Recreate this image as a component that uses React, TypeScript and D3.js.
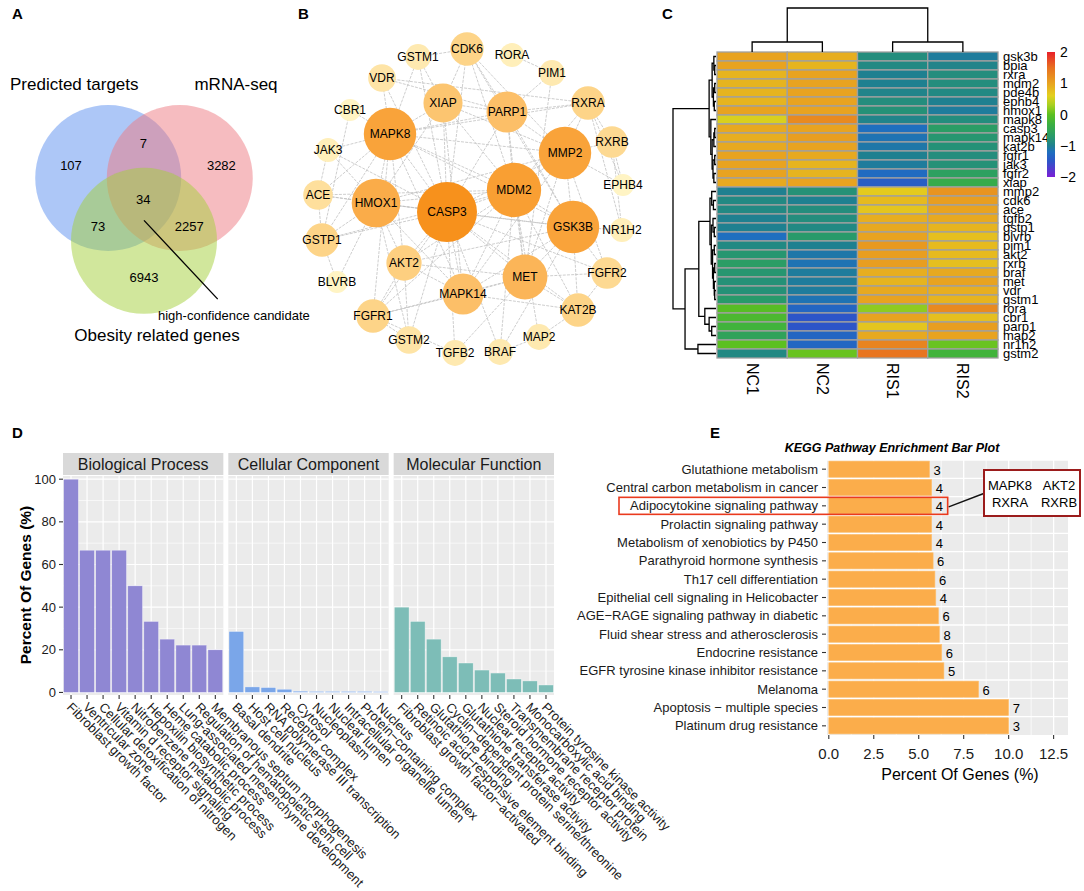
import React from 'react'
import * as d3 from 'd3'

const FONT = '"Liberation Sans", Arial, Helvetica, sans-serif'

// ---------- A: Venn ----------
const vennNames = ['Predicted targets', 'mRNA-seq', 'Obesity related genes']
const vennColors = ['#5b8ff0', '#ee7a82', '#a3cf3a']
// region counts: only A, A&B, only B, A&B&C, A&C, B&C, only C
const vennCounts = [107, 7, 3282, 34, 73, 2257, 6943]

// layout (in circle-radius units)
const vennCircleLayout: [number, number][] = [[-0.49, 0], [0.49, 0], [0, 0.86]]
const vennCountLayout: [number, number][] = [
  [-1.0, -0.17], [-0.01, -0.47], [1.06, -0.17], [-0.01, 0.29], [-0.63, 0.67], [0.62, 0.67], [0, 1.36],
]

// ---------- B: PPI network ----------
const netNodes = [
  'CASP3', 'MDM2', 'MAPK8', 'MMP2', 'GSK3B', 'HMOX1', 'MET', 'MAPK14', 'PARP1', 'XIAP', 'AKT2',
  'CDK6', 'RXRA', 'FGFR1', 'KAT2B', 'GSTP1', 'RXRB', 'FGFR2', 'ACE', 'VDR', 'GSTM2', 'GSTM1',
  'PIM1', 'TGFB2', 'BRAF', 'MAP2', 'JAK3', 'NR1H2', 'RORA', 'EPHB4', 'CBR1', 'BLVRB',
]
const netDegree = [22, 19, 18, 18, 18, 16, 14, 12, 12, 11, 9, 8, 8, 8, 8, 8, 7, 7, 6, 5, 5, 4, 4, 4, 4, 4, 3, 3, 3, 2, 2, 2]
const netLayout: Record<string, [number, number]> = {
  CASP3: [137, 212], MDM2: [204, 190], MAPK8: [80, 134], MMP2: [255, 153], GSK3B: [263, 227],
  HMOX1: [66, 203], MET: [215, 277], MAPK14: [153, 294], PARP1: [197, 112], XIAP: [133, 103],
  AKT2: [94, 263], CDK6: [157, 49], RXRA: [278, 103], FGFR1: [63, 316], KAT2B: [268, 310],
  GSTP1: [12, 240], RXRB: [302, 142], FGFR2: [297, 273], ACE: [8, 195], VDR: [72, 78],
  GSTM2: [99, 340], GSTM1: [108, 57], PIM1: [242, 73], TGFB2: [145, 353], BRAF: [190, 352],
  MAP2: [229, 337], JAK3: [18, 150], NR1H2: [312, 230], RORA: [202, 55], EPHB4: [313, 185],
  CBR1: [40, 110], BLVRB: [27, 282],
}
const netEdges: [string, string][] = [
  ['CASP3', 'MAPK8'], ['CASP3', 'HMOX1'], ['CASP3', 'MDM2'], ['CASP3', 'XIAP'], ['CASP3', 'PARP1'],
  ['CASP3', 'AKT2'], ['CASP3', 'MAPK14'], ['CASP3', 'MET'], ['CASP3', 'GSK3B'], ['CASP3', 'MMP2'],
  ['CASP3', 'CDK6'], ['CASP3', 'GSTP1'], ['CASP3', 'ACE'], ['CASP3', 'FGFR1'], ['CASP3', 'GSTM2'],
  ['CASP3', 'TGFB2'], ['CASP3', 'BRAF'], ['CASP3', 'KAT2B'], ['CASP3', 'FGFR2'], ['CASP3', 'JAK3'],
  ['CASP3', 'VDR'], ['CASP3', 'GSTM1'],
  ['MDM2', 'MAPK8'], ['MDM2', 'HMOX1'], ['MDM2', 'XIAP'], ['MDM2', 'PARP1'], ['MDM2', 'MMP2'],
  ['MDM2', 'GSK3B'], ['MDM2', 'MET'], ['MDM2', 'MAPK14'], ['MDM2', 'AKT2'], ['MDM2', 'CDK6'],
  ['MDM2', 'RXRA'], ['MDM2', 'KAT2B'], ['MDM2', 'FGFR1'], ['MDM2', 'MAP2'], ['MDM2', 'BRAF'],
  ['MDM2', 'ACE'], ['MDM2', 'GSTP1'],
  ['MAPK8', 'HMOX1'], ['MAPK8', 'XIAP'], ['MAPK8', 'PARP1'], ['MAPK8', 'MMP2'], ['MAPK8', 'GSK3B'],
  ['MAPK8', 'MAPK14'], ['MAPK8', 'AKT2'], ['MAPK8', 'JAK3'], ['MAPK8', 'CBR1'], ['MAPK8', 'VDR'],
  ['MAPK8', 'ACE'], ['MAPK8', 'GSTM1'], ['MAPK8', 'GSTP1'], ['MAPK8', 'RXRA'], ['MAPK8', 'FGFR1'],
  ['MMP2', 'PARP1'], ['MMP2', 'GSK3B'], ['MMP2', 'MET'], ['MMP2', 'RXRA'], ['MMP2', 'RXRB'],
  ['MMP2', 'EPHB4'], ['MMP2', 'HMOX1'], ['MMP2', 'CDK6'], ['MMP2', 'MAPK14'], ['MMP2', 'FGFR2'],
  ['MMP2', 'XIAP'],
  ['GSK3B', 'MET'], ['GSK3B', 'MAPK14'], ['GSK3B', 'KAT2B'], ['GSK3B', 'FGFR2'], ['GSK3B', 'NR1H2'],
  ['GSK3B', 'AKT2'], ['GSK3B', 'PARP1'], ['GSK3B', 'CDK6'], ['GSK3B', 'HMOX1'], ['GSK3B', 'BRAF'],
  ['HMOX1', 'GSTP1'], ['HMOX1', 'ACE'], ['HMOX1', 'AKT2'], ['HMOX1', 'MAPK14'], ['HMOX1', 'BLVRB'],
  ['HMOX1', 'XIAP'], ['HMOX1', 'GSTM2'], ['HMOX1', 'JAK3'],
  ['MET', 'MAPK14'], ['MET', 'KAT2B'], ['MET', 'FGFR2'], ['MET', 'AKT2'], ['MET', 'FGFR1'],
  ['MET', 'PARP1'], ['MET', 'TGFB2'],
  ['MAPK14', 'AKT2'], ['MAPK14', 'FGFR1'], ['MAPK14', 'KAT2B'], ['MAPK14', 'XIAP'],
  ['PARP1', 'XIAP'], ['PARP1', 'CDK6'], ['PARP1', 'PIM1'], ['PARP1', 'RXRA'], ['PARP1', 'VDR'],
  ['XIAP', 'CDK6'], ['XIAP', 'GSTM1'], ['AKT2', 'FGFR1'], ['AKT2', 'GSTM2'],
  ['RXRA', 'RXRB'], ['RXRA', 'NR1H2'], ['RXRA', 'EPHB4'], ['RXRA', 'VDR'],
  ['RXRB', 'NR1H2'], ['RXRB', 'EPHB4'], ['KAT2B', 'MAP2'], ['KAT2B', 'FGFR2'],
  ['ACE', 'GSTP1'], ['ACE', 'JAK3'], ['RORA', 'PIM1'], ['CBR1', 'GSTP1'], ['BLVRB', 'GSTP1'],
  ['GSTM2', 'FGFR1'], ['BRAF', 'MAP2'], ['TGFB2', 'FGFR1'], ['CDK6', 'GSTM1'], ['PIM1', 'MET'],
]

// ---------- C: heatmap ----------
const hmSamples = ['NC1', 'NC2', 'RIS1', 'RIS2']
const hmGenes = [
  'gsk3b', 'bpia', 'rxra', 'mdm2', 'pde4b', 'ephb4', 'hmox1', 'mapk8', 'casp3', 'mapk14', 'kat2b',
  'fgfr1', 'jak3', 'fgfr2', 'xiap', 'mmp2', 'cdk6', 'ace', 'tgfb2', 'gstp1', 'blvrb', 'pim1', 'akt2',
  'rxrb', 'braf', 'met', 'vdr', 'gstm1', 'rora', 'cbr1', 'parp1', 'map2', 'nr1h2', 'gstm2',
]
const hmValues = [
  [1.0, 0.9, -0.85, -1.05], [1.0, 0.85, -0.9, -0.95], [0.85, 1.0, -1.0, -0.85], [0.85, 1.0, -1.0, -0.85],
  [0.85, 1.0, -0.95, -0.9], [0.85, 1.0, -0.85, -1.0], [1.0, 1.0, -0.8, -1.05], [0.55, 1.25, -0.95, -0.85],
  [0.95, 1.0, -1.2, -0.65], [0.9, 1.05, -1.15, -0.75], [0.95, 1.0, -1.1, -0.8], [1.0, 0.95, -1.0, -0.85],
  [1.0, 0.85, -1.05, -0.8], [1.0, 0.85, -1.25, -0.6], [0.95, 1.0, -1.4, -0.4],
  [-1.0, -0.8, 0.65, 1.15], [-0.9, -1.0, 0.8, 1.05], [-0.9, -0.85, 0.7, 1.0], [-1.0, -0.85, 0.9, 0.95],
  [-1.0, -0.9, 0.95, 0.85], [-1.2, -0.7, 1.0, 0.75], [-0.9, -1.0, 1.1, 0.8], [-0.75, -1.1, 1.05, 0.8],
  [-0.65, -1.15, 1.05, 0.75], [-0.75, -1.05, 0.9, 0.95], [-0.8, -1.05, 0.85, 1.0], [-0.8, -1.05, 0.95, 0.9],
  [-0.7, -1.15, 1.0, 0.85], [-0.05, -1.3, 0.2, 1.25], [-0.15, -1.5, 1.0, 0.75], [-0.25, -1.5, 0.7, 1.05],
  [-0.55, -1.3, 0.95, 1.0], [0.0, -1.3, 1.3, 0.05], [-0.9, 0.05, 1.45, -0.25],
]
const hmColorStops = [-2, -1.5, -1.2, -1, -0.7, -0.3, 0, 0.3, 0.6, 1, 1.5, 2]
const hmColors = ['#7a1fd6', '#2d55c8', '#1f6fbf', '#1f8090', '#289a6a', '#3cb040', '#5cc020', '#a8d020', '#e3d01e', '#e8a320', '#e87020', '#e8202a']
const hmLegendTicks = [2, 1, 0, -1, -2]

type Tree = number | { h: number; c: Tree[] }
const rowTree: Tree = {
  h: 10,
  c: [
    {
      h: 1.6,
      c: [
        { h: 0.9, c: [{ h: 0.5, c: [0, { h: 0.3, c: [1, 2] }] }, { h: 0.6, c: [{ h: 0.3, c: [3, 4] }, { h: 0.4, c: [5, 6] }] }] },
        { h: 1.2, c: [7, { h: 0.9, c: [{ h: 0.5, c: [{ h: 0.3, c: [8, 9] }, 10] }, { h: 0.7, c: [{ h: 0.3, c: [11, 12] }, { h: 0.5, c: [13, 14] }] }] }] },
      ],
    },
    {
      h: 7.2,
      c: [
        {
          h: 4.0,
          c: [
            {
              h: 1.4,
              c: [
                { h: 1.0, c: [15, { h: 0.6, c: [16, 17] }] },
                { h: 1.1, c: [{ h: 0.7, c: [18, { h: 0.4, c: [19, 20] }] }, { h: 0.8, c: [{ h: 0.4, c: [21, 22] }, { h: 0.6, c: [{ h: 0.3, c: [23, 24] }, { h: 0.4, c: [25, { h: 0.3, c: [26, 27] }] }] }] }] },
              ],
            },
            { h: 2.6, c: [28, { h: 1.6, c: [29, { h: 1.0, c: [30, 31] }] }] },
          ],
        },
        { h: 4.2, c: [32, 33] },
      ],
    },
  ],
}
const colTree: Tree = { h: 8.8, c: [{ h: 2, c: [0, 1] }, { h: 2, c: [2, 3] }] }

// ---------- D: GO ----------
const goFacets = ['Biological Process', 'Cellular Component', 'Molecular Function']
const goColors = ['#8f87d3', '#7aa6e9', '#7dbdb7']
const bpTerms = ['Fibroblast growth factor', 'Ventricular zone', 'Cellular detoxification of nitrogen', 'Vitamin d receptor signaling', 'Nitrobenzene metabolic process', 'Hepoxilin biosynthetic process', 'Heme catabolic process', 'Lung-associated mesenchyme development', 'Regulation of hematopoietic stem cell', 'Membranous septum morphogenesis']
const bpValues = [100, 66.7, 66.7, 66.7, 50, 33.3, 25, 22.2, 22.2, 20]
const ccTerms = ['Basal dendrite', 'Host cell nucleus', 'RNA polymerase III transcription', 'Receptor complex', 'Cytosol', 'Nucleoplasm', 'Nuclear lumen', 'Intracellular organelle lumen', 'Protein−containing complex', 'Nucleus']
const ccValues = [28.6, 2.6, 2.3, 1.5, 0.6, 0.5, 0.5, 0.5, 0.5, 0.4]
const mfTerms = ['Fibroblast growth factor−activated', 'Retinoic acid−responsive element binding', 'Glutathione binding', 'Cyclin−dependent protein serine/threonine', 'Glutathione transferase activity', 'Nuclear receptor activity', 'Steroid hormone receptor activity', 'Transmembrane receptor protein', 'Monocarboxylic acid binding', 'Protein tyrosine kinase activity']
const mfValues = [40, 33.3, 25, 16.7, 13.8, 10.5, 9.1, 6.3, 5.4, 3.5]
const goTicks = [0, 20, 40, 60, 80, 100]

// ---------- E: KEGG ----------
const keggTerms = [
  'Glutathione metabolism', 'Central carbon metabolism in cancer', 'Adipocytokine signaling pathway',
  'Prolactin signaling pathway', 'Metabolism of xenobiotics by P450', 'Parathyroid hormone synthesis',
  'Th17 cell differentiation', 'Epithelial cell signaling in Helicobacter', 'AGE−RAGE signaling pathway in diabetic',
  'Fluid shear stress and atherosclerosis', 'Endocrine resistance', 'EGFR tyrosine kinase inhibitor resistance',
  'Melanoma', 'Apoptosis − multiple species', 'Platinum drug resistance',
]
const keggPct = [5.6, 5.72, 5.72, 5.72, 5.72, 5.8, 5.9, 5.95, 6.1, 6.15, 6.28, 6.4, 8.33, 10, 10]
const keggCount = [3, 4, 4, 4, 4, 6, 6, 4, 6, 8, 6, 5, 6, 7, 3]
const keggTicks = [0, 2.5, 5, 7.5, 10, 12.5]
const keggHighlight = 'Adipocytokine signaling pathway'
const keggGenes = ['MAPK8', 'AKT2', 'RXRA', 'RXRB']

function PanelLabel({ x, y, t }: { x: number; y: number; t: string }) {
  return <text x={x} y={y} fontSize={15} fontWeight="bold">{t}</text>
}

function Venn() {
  const r = 73
  const sx = d3.scaleLinear([-1, 1], [144 - r, 144 + r])
  const sy = d3.scaleLinear([-1, 1], [178 - r, 178 + r])
  return (
    <g>
      {vennNames.map((n, i) => (
        <circle key={n} cx={sx(vennCircleLayout[i][0])} cy={sy(vennCircleLayout[i][1])} r={r} fill={vennColors[i]} fillOpacity={0.5} />
      ))}
      {vennCounts.map((c, i) => (
        <text key={i} x={sx(vennCountLayout[i][0])} y={sy(vennCountLayout[i][1])} textAnchor="middle" dominantBaseline="central" fontSize={13}>{c}</text>
      ))}
      <line x1={sx(0)} y1={sy(0.58)} x2={sx(1.01)} y2={sy(1.66)} stroke="#000" strokeWidth={1.3} />
      <text x={158} y={320} fontSize={13}>high-confidence candidate</text>
      <text x={10} y={90} fontSize={17}>{vennNames[0]}</text>
      <text x={236} y={90} fontSize={17} textAnchor="middle">{vennNames[1]}</text>
      <text x={157} y={341} fontSize={17} textAnchor="middle">{vennNames[2]}</text>
    </g>
  )
}

function Network() {
  const nx = d3.scaleLinear([0, 100], [310, 410])
  const ny = d3.scaleLinear([0, 100], [0, 100])
  const rad = d3.scaleLinear([2, 22], [11, 30])
  const col = d3.scaleLinear<string>([2, 8, 14, 22], ['#fff4c4', '#fdd488', '#fbb558', '#f7911c'])
  const deg = new Map(netNodes.map((n, i) => [n, netDegree[i]]))
  const order = [...netNodes].reverse()
  return (
    <g>
      {netEdges.map(([a, b], i) => (
        <line key={i} x1={nx(netLayout[a][0])} y1={ny(netLayout[a][1])} x2={nx(netLayout[b][0])} y2={ny(netLayout[b][1])}
          stroke="#c2c2c2" strokeWidth={0.8} strokeDasharray="3 1.2" />
      ))}
      {order.map((n) => (
        <g key={n}>
          <circle cx={nx(netLayout[n][0])} cy={ny(netLayout[n][1])} r={rad(deg.get(n)!)} fill={col(deg.get(n)!)} />
          <text x={nx(netLayout[n][0])} y={ny(netLayout[n][1])} textAnchor="middle" dominantBaseline="central" fontSize={12}>{n}</text>
        </g>
      ))}
    </g>
  )
}

function treeSegments(t: Tree, leaf: (i: number) => number, segs: { h: number; kids: { p: number; h: number }[] }[]): { p: number; h: number } {
  if (typeof t === 'number') return { p: leaf(t), h: 0 }
  const kids = t.c.map((k) => treeSegments(k, leaf, segs))
  segs.push({ h: t.h, kids })
  return { p: (kids[0].p + kids[kids.length - 1].p) / 2, h: t.h }
}

function Heatmap() {
  const hx = d3.scaleBand(hmSamples, [717, 998])
  const hy = d3.scaleBand(hmGenes, [52, 358])
  const color = d3.scaleLinear<string>(hmColorStops, hmColors).clamp(true)
  const legY = d3.scaleLinear([-2, 2], [177, 52])

  const rowSegs: { h: number; kids: { p: number; h: number }[] }[] = []
  treeSegments(rowTree, (i) => hy(hmGenes[i])! + hy.bandwidth() / 2, rowSegs)
  const rx = d3.scaleLinear([0, 10], [716, 673])
  const colSegs: { h: number; kids: { p: number; h: number }[] }[] = []
  treeSegments(colTree, (i) => hx(hmSamples[i])! + hx.bandwidth() / 2, colSegs)
  const cy = d3.scaleLinear([0, 8.8], [52, 8])

  return (
    <g>
      <defs>
        <linearGradient id="hmgrad" x1="0" y1="1" x2="0" y2="0">
          {hmColorStops.map((v, i) => (
            <stop key={i} offset={(v + 2) / 4} stopColor={hmColors[i]} />
          ))}
        </linearGradient>
      </defs>
      {hmValues.map((row, ri) =>
        row.map((v, ci) => (
          <rect key={ri + '-' + ci} x={hx(hmSamples[ci])} y={hy(hmGenes[ri])} width={hx.bandwidth()} height={hy.bandwidth()}
            fill={color(v)} stroke="#a0a0a0" strokeWidth={1.3} />
        ))
      )}
      {rowSegs.map((s, i) => (
        <path key={'r' + i} fill="none" stroke="#000" strokeWidth={1.3}
          d={`M${rx(s.kids[0].h)},${s.kids[0].p}H${rx(s.h)}V${s.kids[1].p}H${rx(s.kids[1].h)}`} />
      ))}
      {colSegs.map((s, i) => (
        <path key={'c' + i} fill="none" stroke="#000" strokeWidth={1.3}
          d={`M${s.kids[0].p},${cy(s.kids[0].h)}V${cy(s.h)}H${s.kids[1].p}V${cy(s.kids[1].h)}`} />
      ))}
      {hmGenes.map((g) => (
        <text key={g} x={1003} y={hy(g)! + hy.bandwidth() / 2} dominantBaseline="central" fontSize={13}>{g}</text>
      ))}
      {hmSamples.map((s) => (
        <text key={s} transform={`translate(${hx(s)! + hx.bandwidth() / 2},363) rotate(90)`} dominantBaseline="central" fontSize={16}>{s}</text>
      ))}
      <rect x={1047} y={52} width={8} height={125} fill="url(#hmgrad)" />
      {hmLegendTicks.map((t) => (
        <text key={t} x={1060} y={legY(t)} dominantBaseline="central" fontSize={14}>{t < 0 ? '−' + Math.abs(t) : t}</text>
      ))}
    </g>
  )
}

function GoBars() {
  const fx = d3.scaleBand(goFacets, [63, 554]).paddingInner(5 / 165.5)
  const y = d3.scaleLinear([-1.2, 101.5], [695, 476])
  const terms = [bpTerms, ccTerms, mfTerms]
  const vals = [bpValues, ccValues, mfValues]
  const minor = [10, 30, 50, 70, 90]
  return (
    <g>
      {goFacets.map((f, fi) => {
        const x0 = fx(f)!
        const bw = fx.bandwidth()
        const bx = d3.scaleBand(terms[fi], [x0, x0 + bw]).paddingInner(0.08).paddingOuter(0.04)
        return (
          <g key={f}>
            <rect x={x0} y={453} width={bw} height={22} fill="#d9d9d9" />
            <text x={x0 + bw / 2} y={470} textAnchor="middle" fontSize={16} fill="#1a1a1a">{f}</text>
            <rect x={x0} y={476} width={bw} height={219} fill="#ebebeb" />
            {minor.map((t) => <line key={'m' + t} x1={x0} x2={x0 + bw} y1={y(t)} y2={y(t)} stroke="#fff" strokeWidth={0.6} />)}
            {goTicks.map((t) => <line key={'g' + t} x1={x0} x2={x0 + bw} y1={y(t)} y2={y(t)} stroke="#fff" strokeWidth={1.2} />)}
            {terms[fi].map((t) => {
              const cx = bx(t)! + bx.bandwidth() / 2
              return <line key={'v' + t} x1={cx} x2={cx} y1={476} y2={695} stroke="#fff" strokeWidth={1.2} />
            })}
            {terms[fi].map((t, i) => (
              <rect key={'b' + t} x={bx(t)} y={y(vals[fi][i])} width={bx.bandwidth()} height={y(0) - y(vals[fi][i])}
                fill={goColors[fi]} stroke="#ffffff" strokeOpacity={0.6} strokeWidth={0.6} />
            ))}
            {terms[fi].map((t) => {
              const cx = bx(t)! + bx.bandwidth() / 2
              return (
                <g key={'t' + t}>
                  <line x1={cx} x2={cx} y1={695} y2={699} stroke="#333" strokeWidth={1.1} />
                  <text transform={`translate(${cx + 2},701) rotate(45)`} dy="0.75em" fontSize={13} fill="#1a1a1a">{t}</text>
                </g>
              )
            })}
          </g>
        )
      })}
      {goTicks.map((t) => (
        <g key={t}>
          <line x1={59} x2={63} y1={y(t)} y2={y(t)} stroke="#333" strokeWidth={1.1} />
          <text x={56} y={y(t)} textAnchor="end" dominantBaseline="central" fontSize={13} fill="#1a1a1a">{t}</text>
        </g>
      ))}
      <text transform="translate(25,585) rotate(-90)" textAnchor="middle" dominantBaseline="central" fontSize={15.5} fontWeight="bold">Percent Of Genes (%)</text>
    </g>
  )
}

function KeggBars() {
  const x = d3.scaleLinear([-0.1, 13.3], [827, 1068])
  const y = d3.scaleBand(keggTerms, [460, 735]).paddingInner(0.12).paddingOuter(0.06)
  const minor = [1.25, 3.75, 6.25, 8.75, 11.25]
  const hiY = y(keggHighlight)! + y.bandwidth() / 2
  const hiI = keggTerms.indexOf(keggHighlight)
  return (
    <g>
      <text x={892} y={452} textAnchor="middle" fontSize={12.5} fontWeight="bold" fontStyle="italic">KEGG Pathway Enrichment Bar Plot</text>
      <rect x={827} y={460} width={241} height={275} fill="#ebebeb" />
      {minor.map((t) => <line key={'m' + t} x1={x(t)} x2={x(t)} y1={460} y2={735} stroke="#fff" strokeWidth={0.7} />)}
      {keggTicks.map((t) => <line key={'g' + t} x1={x(t)} x2={x(t)} y1={460} y2={735} stroke="#fff" strokeWidth={1.3} />)}
      {keggTerms.map((t) => (
        <line key={'h' + t} x1={827} x2={1068} y1={y(t)! - (y.step() - y.bandwidth()) / 2} y2={y(t)! - (y.step() - y.bandwidth()) / 2} stroke="#fff" strokeWidth={1.3} />
      ))}
      {keggTerms.map((t, i) => (
        <g key={t}>
          <rect x={x(0)} y={y(t)} width={x(keggPct[i]) - x(0)} height={y.bandwidth()} fill="#fbad4b" stroke="#ffc070" strokeWidth={0.6} />
          <text x={x(keggPct[i]) + 4} y={y(t)! + y.bandwidth() / 2 + 1} dominantBaseline="central" fontSize={13}>{keggCount[i]}</text>
          <line x1={822} x2={826} y1={y(t)! + y.bandwidth() / 2} y2={y(t)! + y.bandwidth() / 2} stroke="#333" strokeWidth={1.1} />
          <text x={818} y={y(t)! + y.bandwidth() / 2} textAnchor="end" dominantBaseline="central" fontSize={13} fill="#1a1a1a">{t}</text>
        </g>
      ))}
      {keggTicks.map((t) => (
        <g key={'x' + t}>
          <line x1={x(t)} x2={x(t)} y1={735} y2={739} stroke="#333" strokeWidth={1.1} />
          <text x={x(t)} y={753} textAnchor="middle" dominantBaseline="central" fontSize={15} fill="#1a1a1a">{t.toFixed(1)}</text>
        </g>
      ))}
      <text x={960} y={774} textAnchor="middle" dominantBaseline="central" fontSize={16}>Percent Of Genes (%)</text>
      <rect x={619} y={hiY - 8.5} width={x(keggPct[hiI]) + 16 - 619} height={17} fill="none" stroke="#ea3a1e" strokeWidth={1.6} />
      <line x1={x(keggPct[hiI]) + 17} y1={hiY + 1} x2={985} y2={493} stroke="#111" strokeWidth={1.4} />
      <rect x={984} y={470} width={96} height={46} fill="#fff" stroke="#9b1c1c" strokeWidth={2} />
      {keggGenes.map((g, i) => (
        <text key={g} x={1010 + (i % 2) * 49} y={485 + Math.floor(i / 2) * 17} textAnchor="middle" dominantBaseline="central" fontSize={13}>{g}</text>
      ))}
    </g>
  )
}

export default function App() {
  return (
    <svg width={1084} height={891} viewBox="0 0 1084 891" fontFamily={FONT}
      style={{ position: 'absolute', left: 0, top: 0, display: 'block', background: '#fff' }}>
      <rect width={1084} height={891} fill="#fff" />
      <PanelLabel x={12} y={19} t="A" />
      <PanelLabel x={298} y={19} t="B" />
      <PanelLabel x={662} y={19} t="C" />
      <PanelLabel x={12} y={438} t="D" />
      <PanelLabel x={710} y={438} t="E" />
      <Venn />
      <Network />
      <Heatmap />
      <GoBars />
      <KeggBars />
    </svg>
  )
}
